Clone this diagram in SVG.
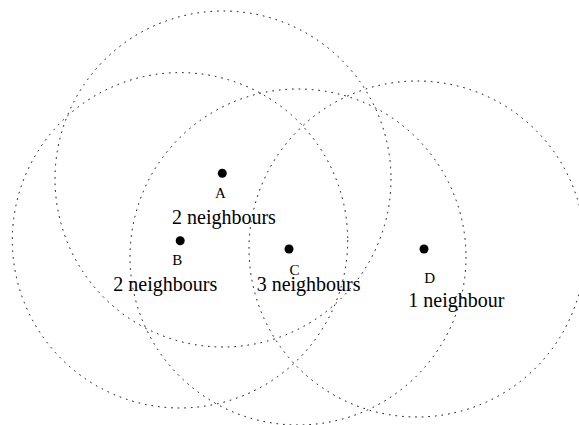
<svg xmlns="http://www.w3.org/2000/svg" width="579" height="425" viewBox="0 0 579 425">
<style>
.range{fill:none;stroke:#000;stroke-width:1;stroke-dasharray:1.6 5}
.dot{fill:#000}
.lbl{font-family:"Liberation Serif","Times New Roman",serif;font-size:15px;fill:#000;text-anchor:middle}
.cnt{font-family:"Liberation Serif","Times New Roman",serif;font-size:20px;fill:#000}
</style>
<rect width="579" height="425" fill="#fff"/>
<g id="node-A">
<circle class="range" cx="223" cy="179" r="168"/>
<circle class="dot" cx="222.3" cy="173.3" r="4.5"/>
<text class="lbl" x="220.5" y="198">A</text>
<text class="cnt" x="172" y="224">2 neighbours</text>
</g>
<g id="node-B">
<circle class="range" cx="180" cy="240.3" r="167.7"/>
<circle class="dot" cx="180.2" cy="240.7" r="4.5"/>
<text class="lbl" x="177.2" y="265">B</text>
<text class="cnt" x="113.3" y="290.7">2 neighbours</text>
</g>
<g id="node-C">
<circle class="range" cx="298" cy="257" r="168"/>
<circle class="dot" cx="289" cy="249" r="4.5"/>
<text class="lbl" x="294.5" y="275">C</text>
<text class="cnt" x="256.7" y="290.7">3 neighbours</text>
</g>
<g id="node-D">
<circle class="range" cx="417" cy="249" r="168"/>
<circle class="dot" cx="424" cy="249" r="4.5"/>
<text class="lbl" x="429.7" y="282.7">D</text>
<text class="cnt" x="408.3" y="307.3">1 neighbour</text>
</g>
<g id="connectors"/>
</svg>
